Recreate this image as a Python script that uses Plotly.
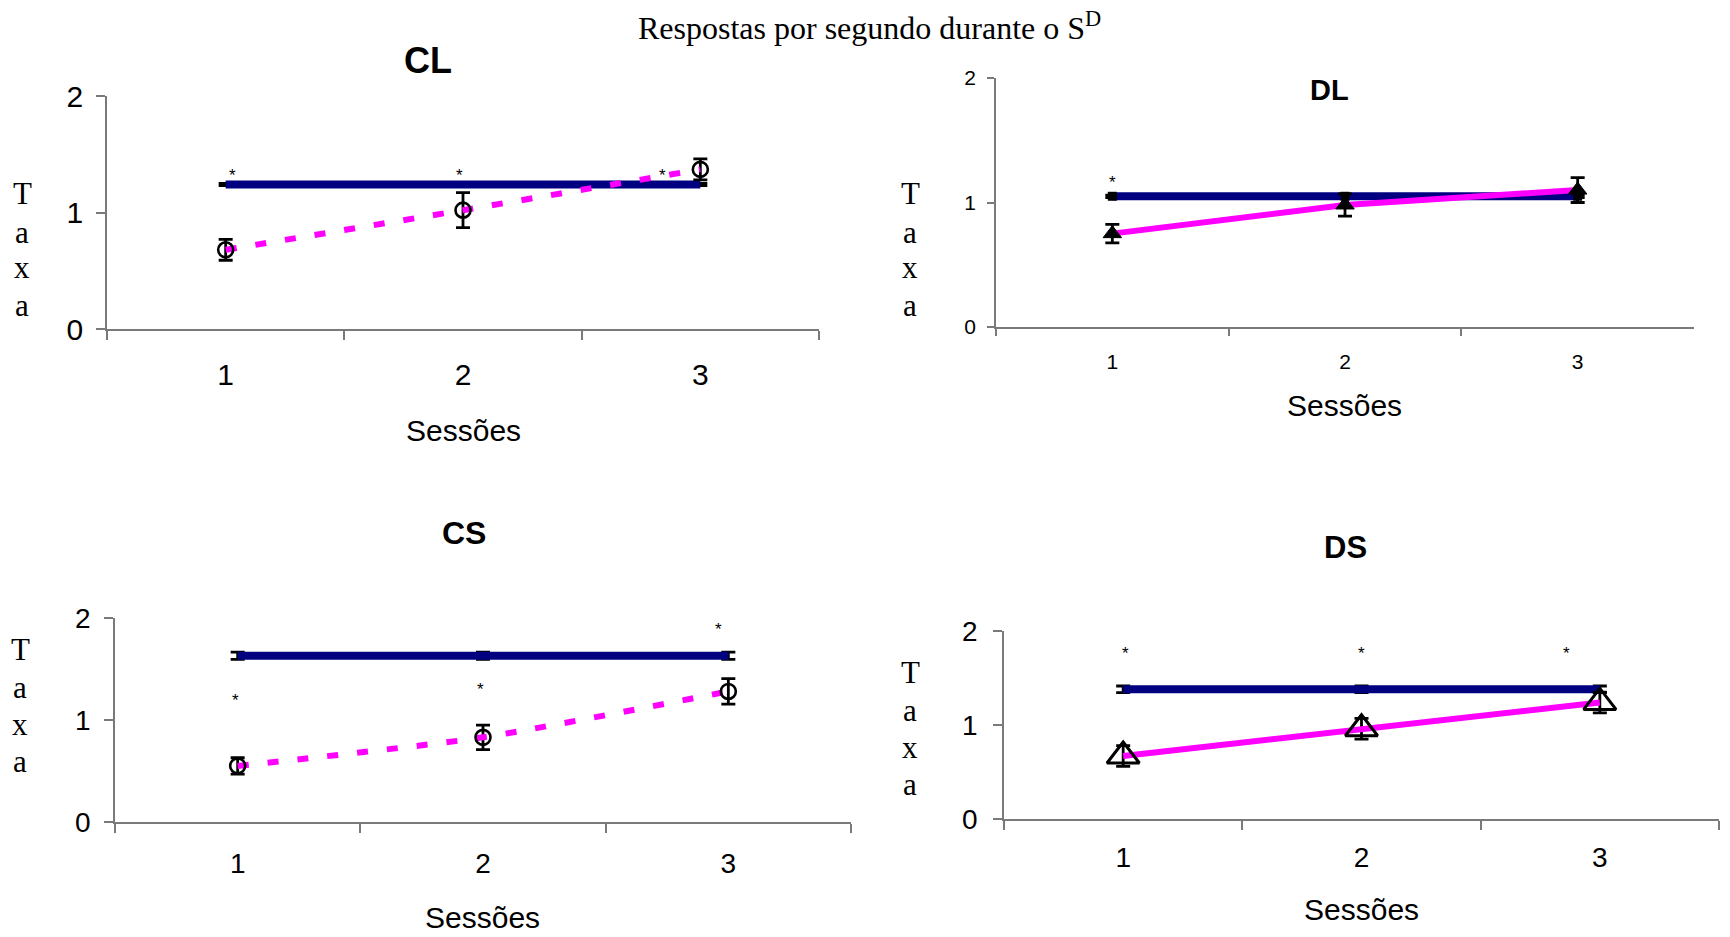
import plotly.graph_objects as go

# ---- data -----------------------------------------------------------------
sessions = ["1", "2", "3"]

# CL
cl_blue = [1.24, 1.24, 1.24]
cl_blue_err = [0.01, 0.01, 0.01]
cl_pink = [0.68, 1.02, 1.37]
cl_pink_err = [0.09, 0.15, 0.09]
cl_star_x = [1.03, 1.985, 2.84]
cl_star_y = [1.35, 1.35, 1.35]

# DL
dl_blue = [1.05, 1.05, 1.05]
dl_blue_err = [0.01, 0.01, 0.01]
dl_pink = [0.75, 0.98, 1.10]
dl_pink_err = [0.075, 0.09, 0.10]
dl_star_x = [1.0]
dl_star_y = [1.19]

# CS
cs_blue = [1.63, 1.63, 1.63]
cs_blue_err = [0.035, 0.035, 0.035]
cs_pink = [0.55, 0.83, 1.28]
cs_pink_err = [0.08, 0.12, 0.125]
cs_star_x = [0.99, 1.99, 2.96]
cs_star_y = [1.23, 1.34, 1.93]

# DS
ds_blue = [1.38, 1.38, 1.38]
ds_blue_err = [0.035, 0.035, 0.035]
ds_pink = [0.67, 0.96, 1.24]
ds_pink_err = [0.11, 0.11, 0.11]
ds_star_x = [1.01, 2.0, 2.86]
ds_star_y = [1.80, 1.80, 1.80]

y_ticks = [0, 1, 2]
y_label = "Taxa"

# ---- styling --------------------------------------------------------------
W, H = 1730, 937
NAVY = "#000080"
MAGENTA = "#FF00FF"
AXIS = "#7a7a7a"
SANS = "Liberation Sans, Arial, sans-serif"
SERIF = "Liberation Serif, Times New Roman, serif"

# panel boxes in pixels: left, right, bottom(y=0), top(y=2)
panels = {
    "CL": dict(box=(107, 819, 329, 96), tick=30, xstand=18, ystand=7, ticklen=9,
               title=(428, 60, 36), sess=(463, 430), taxa=(22, [193, 232, 268, 306]),
               blue=cl_blue, blue_err=cl_blue_err, pink=cl_pink, pink_err=cl_pink_err,
               star=(cl_star_x, cl_star_y), dash="11px,19px",
               marker=dict(symbol="circle-open", size=15, color="black",
                           line=dict(color="black", width=2.6))),
    "DL": dict(box=(996, 1694, 327, 78), tick=21, xstand=15, ystand=7, ticklen=7,
               title=(1329, 90, 29), sess=(1344, 405), taxa=(910, [193, 232, 268, 306]),
               blue=dl_blue, blue_err=dl_blue_err, pink=dl_pink, pink_err=dl_pink_err,
               star=(dl_star_x, dl_star_y), dash="solid",
               marker=dict(symbol="triangle-up", size=16, color="black",
                           line=dict(color="black", width=1))),
    "CS": dict(box=(115, 851, 822, 618), tick=28, xstand=16, ystand=8, ticklen=9,
               title=(464, 533, 32), sess=(482, 917), taxa=(20, [649, 687, 724, 761]),
               blue=cs_blue, blue_err=cs_blue_err, pink=cs_pink, pink_err=cs_pink_err,
               star=(cs_star_x, cs_star_y), dash="11px,19px",
               marker=dict(symbol="circle-open", size=15, color="black",
                           line=dict(color="black", width=2.6))),
    "DS": dict(box=(1004, 1719, 819, 631), tick=28, xstand=13, ystand=10, ticklen=9,
               title=(1345, 547, 31), sess=(1361, 909), taxa=(910, [672, 710, 747, 784]),
               blue=ds_blue, blue_err=ds_blue_err, pink=ds_pink, pink_err=ds_pink_err,
               star=(ds_star_x, ds_star_y), dash="solid",
               marker=dict(symbol="triangle-up-open", size=28, color="black",
                           line=dict(color="black", width=3))),
}

fig = go.Figure()
annotations = []
layout_axes = {}


def paper_text(px, py, text, font):
    return dict(x=px / W, y=1 - py / H, xref="paper", yref="paper", text=text,
                showarrow=False, xanchor="center", yanchor="middle", font=font)


for i, (name, p) in enumerate(panels.items(), start=1):
    sfx = "" if i == 1 else str(i)
    xa, ya = "x" + sfx, "y" + sfx
    left, right, bottom, top = p["box"]

    # navy series: thick line with tiny error bars
    fig.add_trace(go.Scatter(
        x=sessions, y=p["blue"], xaxis=xa, yaxis=ya,
        mode="lines+markers" if name == "DL" else "lines",
        line=dict(color=NAVY, width=8),
        marker=dict(symbol="square", size=9, color="black"),
        error_y=dict(type="data", array=p["blue_err"], color="black",
                     thickness=2.8, width=7),
        showlegend=False, hoverinfo="skip"))

    # magenta series with markers and error bars
    fig.add_trace(go.Scatter(
        x=sessions, y=p["pink"], xaxis=xa, yaxis=ya, mode="lines+markers",
        line=dict(color=MAGENTA, width=6, dash=p["dash"],
                  shape="spline" if p["dash"] != "solid" else "linear", smoothing=0.6),
        marker=p["marker"],
        error_y=dict(type="data", array=p["pink_err"], color="black",
                     thickness=2.8, width=7),
        showlegend=False, hoverinfo="skip"))

    layout_axes["xaxis" + sfx] = dict(
        domain=[left / W, right / W], anchor=ya, type="category",
        range=[-0.5, 2.5], tickson="boundaries", ticks="outside",
        ticklen=p["ticklen"], tickcolor=AXIS, tickwidth=1.5,
        showline=True, linecolor=AXIS, linewidth=1.5, automargin=False,
        showgrid=False, zeroline=False, ticklabelstandoff=p["xstand"],
        tickfont=dict(family=SANS, size=p["tick"], color="black"))
    layout_axes["yaxis" + sfx] = dict(
        domain=[1 - bottom / H, 1 - top / H], anchor=xa, range=[0, 2],
        tickvals=y_ticks, ticks="outside", ticklen=p["ticklen"],
        tickcolor=AXIS, tickwidth=1.5, showline=True, linecolor=AXIS,
        linewidth=1.5, showgrid=False, zeroline=False, automargin=False,
        ticklabelstandoff=p["ystand"],
        tickfont=dict(family=SANS, size=p["tick"], color="black"))

    # significance asterisks
    for sx, sy in zip(*p["star"]):
        annotations.append(dict(
            x=sx - 1, y=sy, xref=xa, yref=ya, text="*", showarrow=False,
            xanchor="center", yanchor="middle", yshift=-4,
            font=dict(family=SANS, size=17, color="black")))

    tx, ty, tsize = p["title"]
    annotations.append(paper_text(tx, ty, f"<b>{name}</b>",
                                  dict(family=SANS, size=tsize, color="black")))
    sxp, syp = p["sess"]
    annotations.append(paper_text(sxp, syp, "Sessões",
                                  dict(family=SANS, size=30, color="black")))
    txp, tys = p["taxa"]
    for letter, ly in zip(y_label, tys):
        annotations.append(paper_text(txp, ly, letter,
                                      dict(family=SERIF, size=31, color="black")))

annotations.append(paper_text(869, 26, "Respostas por segundo durante o S<sup>D</sup>",
                              dict(family=SERIF, size=32, color="black")))

fig.update_layout(
    width=W, height=H, autosize=False,
    margin=dict(l=0, r=0, t=0, b=0, pad=0),
    paper_bgcolor="white", plot_bgcolor="white",
    annotations=annotations, **layout_axes)

fig.write_html("out.html")
